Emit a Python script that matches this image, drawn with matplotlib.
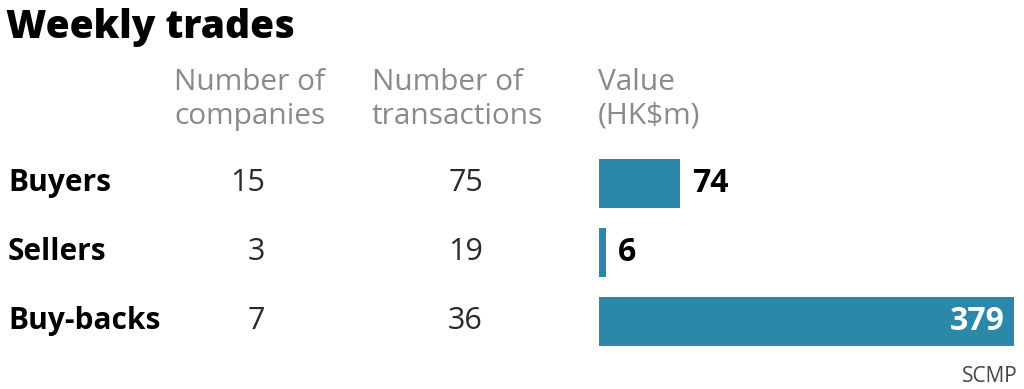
import matplotlib
matplotlib.use("Agg")
import matplotlib.pyplot as plt

rows = ["Buyers", "Sellers", "Buy-backs"]
companies = [15, 3, 7]
transactions = [75, 19, 36]
values = [74, 6, 379]
headers = [["Number of", "companies"], ["Number of", "transactions"], ["Value", "(HK$m)"]]

W, H = 1024, 389
fig = plt.figure(figsize=(W / 100, H / 100), dpi=100)
fig.patch.set_facecolor("white")

def px(x, y):
    return x / W, 1 - y / H

bar_color = "#2b88a8"
font = "Open Sans"

# Bars axes
left, right, top, bottom = 599, 1014, 159, 346
ax = fig.add_axes([left / W, 1 - bottom / H, (right - left) / W, (bottom - top) / H])
pos = list(range(len(rows)))
bh = 49 / 69
ax.barh(pos, values, height=bh, color=bar_color)
ax.set_xlim(0, max(values))
ax.set_ylim(len(rows) - 1 + bh / 2, -bh / 2)
ax.axis("off")

unit = max(values) / (right - left)
for i, v in enumerate(values):
    if v == max(values):
        ax.text(v - 9 * unit, i + 0.13, str(v), color="white",
                fontsize=23, fontweight="bold", family=font, ha="right", va="baseline")
    else:
        ax.text(v + 12 * unit, i + 0.13, str(v), color="black",
                fontsize=23, fontweight="bold", family=font, ha="left", va="baseline")

# Title
fig.text(*px(6, 38), "Weekly trades", fontsize=28, fontweight="heavy", family=font,
         ha="left", va="baseline", color="black")

# Headers
hx = [174, 372, 598]
for x, h in zip(hx, headers):
    for j, line in enumerate(h):
        fig.text(*px(x, 90 + 34 * j), line, fontsize=21.5, family=font, color="#8a8a8a",
                 ha="left", va="baseline")

row_y = [191, 260, 329]
for y, r, c, t in zip(row_y, rows, companies, transactions):
    fig.text(*px(8, y), r, fontsize=21.5, fontweight="bold", family=font,
             ha="left", va="baseline", color="black")
    fig.text(*px(265, y), str(c), fontsize=22, family=font,
             ha="right", va="baseline", color="#2a2a2a")
    fig.text(*px(483, y), str(t), fontsize=22, family=font,
             ha="right", va="baseline", color="#2a2a2a")

fig.text(*px(1018, 382), "SCMP", fontsize=15, family=font, ha="right", va="baseline",
         color="#444444")

fig.savefig("out.png", dpi=100, facecolor="white")
